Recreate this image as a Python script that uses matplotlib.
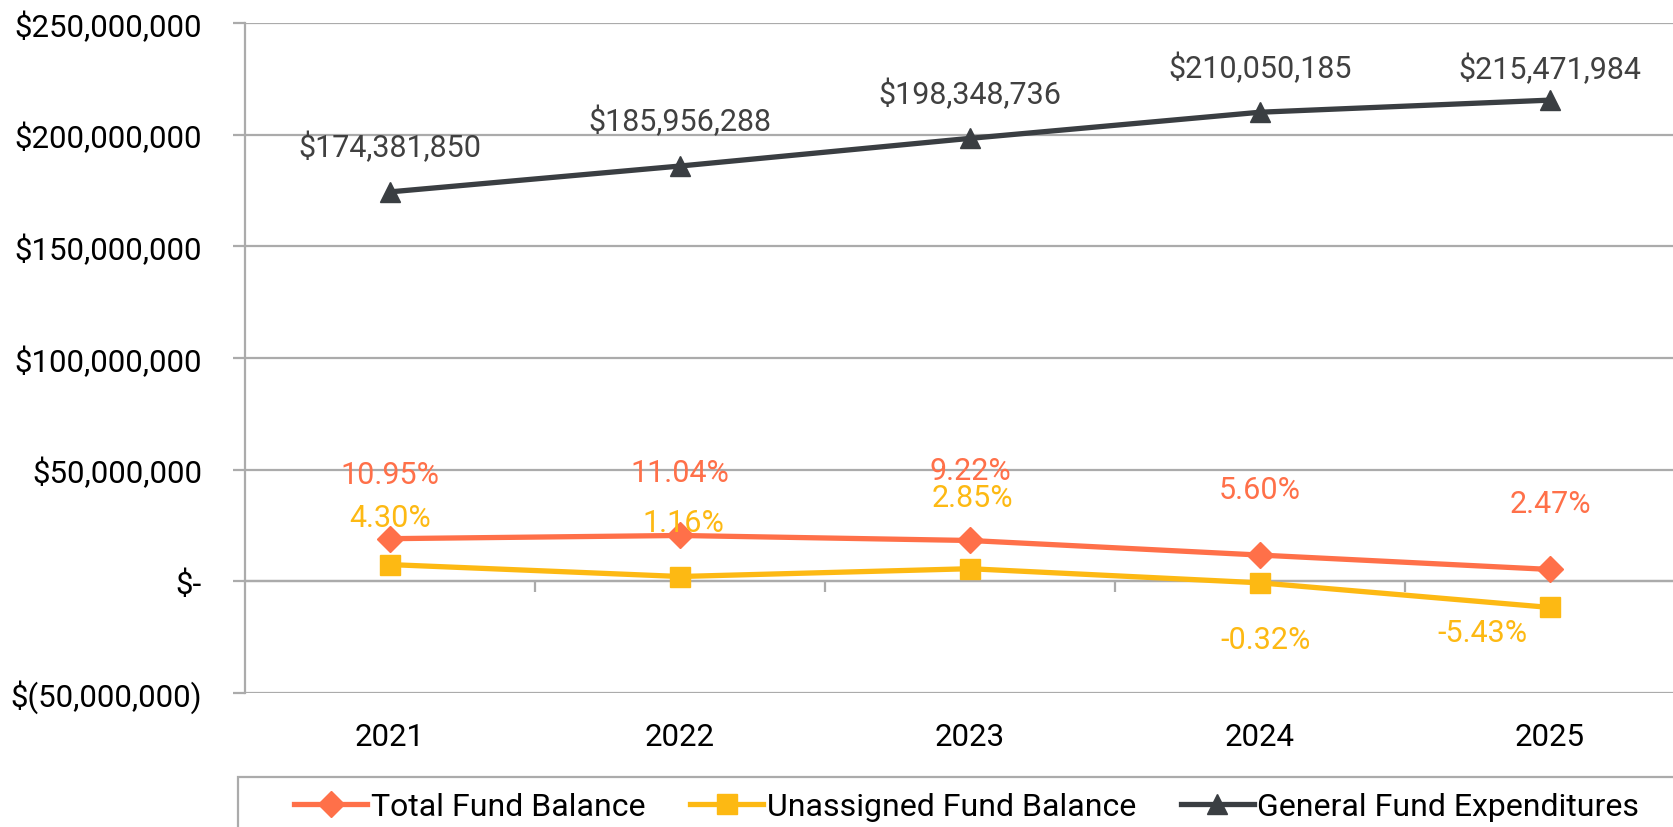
import matplotlib.pyplot as plt
from matplotlib.patches import Rectangle
from matplotlib.ticker import FuncFormatter

plt.rcParams['font.family'] = ['Roboto', 'DejaVu Sans']

years = ['2021', '2022', '2023', '2024', '2025']
expenditures = [174381850, 185956288, 198348736, 210050185, 215471984]
total_balance = [19.10e6, 20.53e6, 18.29e6, 11.76e6, 5.32e6]
unassigned_balance = [7.50e6, 2.16e6, 5.65e6, -0.67e6, -11.70e6]
total_pct = ['10.95%', '11.04%', '9.22%', '5.60%', '2.47%']
unassigned_pct = ['4.30%', '1.16%', '2.85%', '-0.32%', '-5.43%']

c_total = '#FF7049'
c_unas = '#FDB913'
c_exp = '#3A3E42'
c_grid = '#ABABAB'

W, H = 1673, 828
fig = plt.figure(figsize=(W / 100, H / 100), dpi=100)
ax = fig.add_axes([245 / W, 1 - 694 / H, 1450 / W, 670 / H])

x = list(range(len(years)))
ax.plot(x, total_balance, color=c_total, lw=3.8, marker='D', ms=13, label='Total Fund Balance')
ax.plot(x, unassigned_balance, color=c_unas, lw=3.8, marker='s', ms=15, label='Unassigned Fund Balance')
ax.plot(x, expenditures, color=c_exp, lw=3.8, marker='^', ms=15, label='General Fund Expenditures')

ymin, ymax = -50e6, 250e6
ax.set_ylim(ymin, ymax)
ax.set_xlim(-0.5, len(years) - 0.5)
ax.set_yticks(range(-50000000, 250000001, 50000000))


def money(v, pos):
    if v == 0:
        return '$-'
    if v < 0:
        return '$({:,.0f})'.format(-v)
    return '${:,.0f}'.format(v)


ax.yaxis.set_major_formatter(FuncFormatter(money))
ax.grid(axis='y', color=c_grid, lw=1.6)
ax.set_axisbelow(True)
for s in ['top', 'right', 'bottom']:
    ax.spines[s].set_visible(False)
ax.spines['left'].set_color(c_grid)
ax.spines['left'].set_linewidth(1.6)
ax.tick_params(axis='y', length=9, width=1.6, color=c_grid, pad=22, labelsize=22.5)
ax.set_xticks(x)
ax.set_xticklabels(years)
ax.tick_params(axis='x', length=0, pad=21, labelsize=22.5)

# category axis crossing at zero, with tick marks between categories
zero_frac = (0 - ymin) / (ymax - ymin)
sec = ax.secondary_xaxis(zero_frac)
sec.set_xticks([i + 0.5 for i in x[:-1]])
sec.set_xticklabels([])
sec.tick_params(axis='x', length=8, width=1.6, color=c_grid, direction='out')
sec.spines['bottom'].set_color(c_grid)
sec.spines['bottom'].set_linewidth(1.6)

# data labels
exp_off = [45, 46, 45, 45, 32]
for i, v in enumerate(expenditures):
    ax.annotate('${:,.0f}'.format(v), (x[i], v), xytext=(0, exp_off[i]), textcoords='offset pixels',
                ha='center', va='center', fontsize=22, color='#404040')

tot_off = [(0, 64), (0, 63), (0, 70), (0, 66), (0, 66)]
for i, v in enumerate(total_balance):
    ax.annotate(total_pct[i], (x[i], v), xytext=tot_off[i], textcoords='offset pixels',
                ha='center', va='center', fontsize=22, color=c_total)

un_off = [(0, 47), (3, 54), (2, 71), (6, -57), (-68, -25)]
for i, v in enumerate(unassigned_balance):
    ax.annotate(unassigned_pct[i], (x[i], v), xytext=un_off[i], textcoords='offset pixels',
                ha='center', va='center', fontsize=22, color=c_unas)

# legend box (runs off the right and bottom edges like the reference)
fig.add_artist(Rectangle((238 / W, -0.05), 1.0, 0.05 + 1 - 778 / H, transform=fig.transFigure,
                         fill=False, edgecolor=c_grid, lw=1.6, clip_on=False))
fig.legend(loc='upper left', bbox_to_anchor=(294 / W, 1 - 793 / H), ncol=3,
           fontsize=23, frameon=False, handlelength=2.3,
           handletextpad=0.1, columnspacing=1.4, borderpad=0, borderaxespad=0)

fig.savefig('out.png', dpi=100)
